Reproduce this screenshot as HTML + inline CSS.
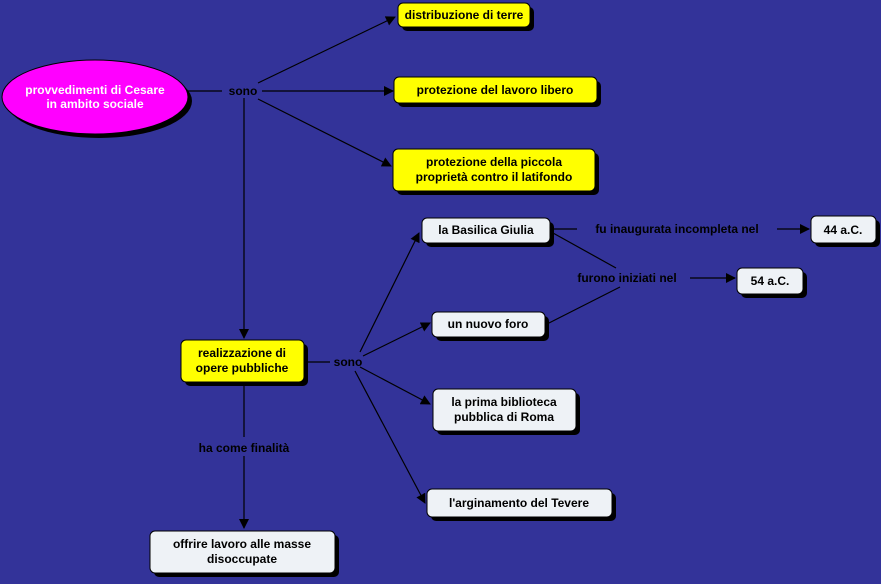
<!DOCTYPE html>
<html><head><meta charset="utf-8"><style>
html,body{margin:0;padding:0;background:#333399;}
svg text{font-family:"Liberation Sans",sans-serif;font-weight:bold;font-size:12px;}
</style></head><body>
<svg width="881" height="579" viewBox="0 0 881 579" xmlns="http://www.w3.org/2000/svg">
<defs><marker id="a" markerWidth="10" markerHeight="10" refX="9" refY="5" orient="auto" markerUnits="userSpaceOnUse"><path d="M0,0 L10,5 L0,10 z" fill="#000"/></marker></defs>
<rect width="881" height="579" fill="#333399"/>
<g stroke="#000" stroke-width="1.2" fill="none">
<line x1="188" y1="91" x2="222" y2="91"/>
<line x1="258" y1="83" x2="395" y2="17" marker-end="url(#a)"/>
<line x1="262" y1="91" x2="393" y2="91" marker-end="url(#a)"/>
<line x1="258" y1="99" x2="391" y2="166" marker-end="url(#a)"/>
<line x1="244" y1="98" x2="244" y2="338" marker-end="url(#a)"/>
<line x1="304" y1="362" x2="330" y2="362"/>
<line x1="360" y1="352" x2="419" y2="233" marker-end="url(#a)"/>
<line x1="363" y1="356" x2="430" y2="323" marker-end="url(#a)"/>
<line x1="360" y1="367" x2="430" y2="404" marker-end="url(#a)"/>
<line x1="355" y1="371" x2="425" y2="503" marker-end="url(#a)"/>
<line x1="244" y1="382" x2="244" y2="437"/>
<line x1="244" y1="456" x2="244" y2="528" marker-end="url(#a)"/>
<line x1="552" y1="229" x2="577" y2="229"/>
<line x1="777" y1="229" x2="809" y2="229" marker-end="url(#a)"/>
<line x1="553" y1="233" x2="616" y2="268"/>
<line x1="547" y1="324" x2="620" y2="287"/>
<line x1="690" y1="278" x2="735" y2="278" marker-end="url(#a)"/>
</g>
<g fill="#000">
<ellipse cx="99" cy="101" rx="93" ry="37"/>
<rect x="402" y="7" width="132" height="24" rx="5"/>
<rect x="398" y="81" width="203" height="26" rx="5"/>
<rect x="397" y="153" width="202" height="42" rx="5"/>
<rect x="185" y="344" width="123" height="42" rx="5"/>
<rect x="426" y="222" width="128" height="25" rx="5"/>
<rect x="436" y="316" width="113" height="25" rx="5"/>
<rect x="437" y="393" width="143" height="42" rx="5"/>
<rect x="431" y="493" width="185" height="28" rx="5"/>
<rect x="154" y="535" width="185" height="42" rx="5"/>
<rect x="815" y="220" width="65" height="27" rx="5"/>
<rect x="741" y="272" width="66" height="26" rx="5"/>
</g>
<ellipse cx="95" cy="97" rx="93" ry="37" fill="#ff00ff" stroke="#000"/>
<g fill="#ffff00" stroke="#000">
<rect x="398" y="3" width="132" height="24" rx="5"/>
<rect x="394" y="77" width="203" height="26" rx="5"/>
<rect x="393" y="149" width="202" height="42" rx="5"/>
<rect x="181" y="340" width="123" height="42" rx="5"/>
</g>
<g fill="#eef2f6" stroke="#000">
<rect x="422" y="218" width="128" height="25" rx="5"/>
<rect x="432" y="312" width="113" height="25" rx="5"/>
<rect x="433" y="389" width="143" height="42" rx="5"/>
<rect x="427" y="489" width="185" height="28" rx="5"/>
<rect x="150" y="531" width="185" height="42" rx="5"/>
<rect x="811" y="216" width="65" height="27" rx="5"/>
<rect x="737" y="268" width="66" height="26" rx="5"/>
</g>
<g text-anchor="middle" fill="#000">
<text x="95" y="94" fill="#fff">provvedimenti di Cesare</text>
<text x="95" y="108" fill="#fff">in ambito sociale</text>
<text x="243" y="95">sono</text>
<text x="464" y="19">distribuzione di terre</text>
<text x="495" y="94">protezione del lavoro libero</text>
<text x="494" y="166">protezione della piccola</text>
<text x="494" y="181">proprietà contro il latifondo</text>
<text x="242" y="357">realizzazione di</text>
<text x="242" y="372">opere pubbliche</text>
<text x="348" y="366">sono</text>
<text x="486" y="234">la Basilica Giulia</text>
<text x="488" y="328">un nuovo foro</text>
<text x="504" y="406">la prima biblioteca</text>
<text x="504" y="421">pubblica di Roma</text>
<text x="519" y="507">l'arginamento del Tevere</text>
<text x="244" y="452">ha come finalità</text>
<text x="242" y="548">offrire lavoro alle masse</text>
<text x="242" y="563">disoccupate</text>
<text x="677" y="233">fu inaugurata incompleta nel</text>
<text x="843" y="234">44 a.C.</text>
<text x="627" y="282">furono iniziati nel</text>
<text x="770" y="285">54 a.C.</text>
</g>
</svg>
</body></html>
